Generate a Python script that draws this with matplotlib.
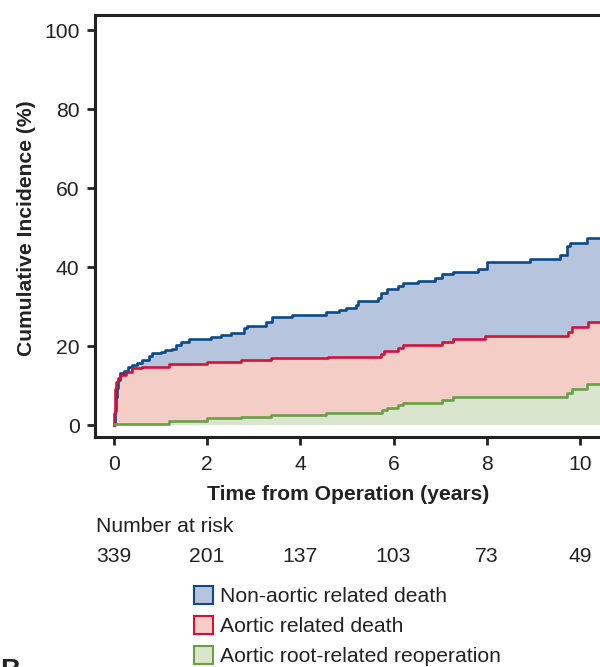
import matplotlib as mpl
mpl.use('Agg')

import matplotlib.pyplot as plt
import matplotlib.transforms as mtransforms
from matplotlib.patches import Patch

plt.rcParams['font.family'] = ['Liberation Sans', 'DejaVu Sans']

# cumulative incidence (%), step functions
t_blue = [0, 0.02, 0.04, 0.06, 0.09, 0.14, 0.22, 0.3, 0.39, 0.5, 0.6, 0.75, 0.82, 1.0,
          1.1, 1.25, 1.33, 1.45, 1.61, 2.08, 2.3, 2.51, 2.8, 2.86, 3.26, 3.4, 3.83,
          4.56, 4.84, 4.99, 5.2, 5.23, 5.66, 5.74, 5.87, 6.1, 6.2, 6.52, 6.88, 7.03,
          7.27, 7.81, 8.0, 8.92, 9.57, 9.72, 9.78, 10.15]
v_blue = [0, 3.5, 7, 9.5, 11.5, 13.2, 13.8, 14.6, 15.2, 15.8, 16.5, 17.5, 18.3, 18.6,
          19.0, 19.3, 20.3, 21.1, 21.8, 22.4, 22.8, 23.2, 24.5, 25.1, 26.2, 27.4, 27.8,
          28.7, 29.1, 29.7, 30.4, 31.5, 32.1, 33.5, 34.4, 35.2, 35.9, 36.5, 37.2, 38.2,
          38.7, 39.5, 41.2, 42.0, 43.0, 45.3, 46.0, 47.3]

t_red = [0, 0.01, 0.02, 0.03, 0.05, 0.08, 0.12, 0.25, 0.39, 0.6, 1.18, 2.0, 2.73, 3.38,
         4.6, 5.74, 5.8, 6.09, 6.2, 7.03, 7.27, 7.96, 9.74, 9.83, 10.17]
v_red = [0, 3, 6.3, 9, 11, 12.0, 12.6, 13.5, 14.4, 14.8, 15.4, 16.0, 16.5, 16.9,
         17.3, 18.1, 18.8, 19.4, 20.3, 21.1, 21.9, 22.5, 23.6, 24.9, 26.0]

t_green = [0, 1.18, 2.0, 2.73, 3.38, 4.56, 5.76, 5.87, 6.09, 6.2, 7.03, 7.27, 9.72, 9.83, 10.15]
v_green = [0.3, 1.1, 1.7, 2.1, 2.5, 3.1, 3.8, 4.2, 5.1, 5.6, 6.3, 7.0, 8.2, 9.2, 10.4]

risk_times = [0, 2, 4, 6, 8, 10]
risk_counts = [339, 201, 137, 103, 73, 49]

series = [
    ("Non-aortic related death", t_blue, v_blue, '#0b4a86', '#b7c4dd'),
    ("Aortic related death", t_red, v_red, '#d3123c', '#f4cdc6'),
    ("Aortic root-related reoperation", t_green, v_green, '#6a9f45', '#d9e5cc'),
]

X_END = 10.6
FS = 15.2

fig = plt.figure(figsize=(6, 6.67), dpi=100)
ax = fig.add_axes([0.158, 0.345, 0.842, 0.6325])

for name, t, v, lc, fc in series:
    tt = list(t) + [X_END]
    vv = list(v) + [v[-1]]
    ax.fill_between(tt, 0, vv, step='post', color=fc, lw=0)
for name, t, v, lc, fc in series:
    tt = list(t) + [X_END]
    vv = list(v) + [v[-1]]
    ax.step(tt, vv, where='post', color=lc, lw=1.9)

ax.set_xlim(-0.41, 10.43)
ax.set_ylim(-3, 103.8)
ax.set_xticks(risk_times)
ax.set_yticks([0, 20, 40, 60, 80, 100])

for s in ['left', 'bottom', 'top']:
    ax.spines[s].set_linewidth(2.2)
    ax.spines[s].set_color('#222222')
ax.spines['right'].set_visible(False)
ax.tick_params(axis='both', direction='out', length=6, width=2, color='#222222',
               labelsize=FS, labelcolor='#222222')
ax.tick_params(axis='x', pad=7)
ax.tick_params(axis='y', pad=5)

# axis titles placed where the reference has them
fig.text(348 / 600, 1 - 495 / 667, "Time from Operation (years)", fontsize=FS,
         fontweight='bold', color='#222222', ha='center', va='center')
fig.text(27 / 600, 1 - 228 / 667, "Cumulative Incidence (%)", fontsize=FS,
         fontweight='bold', color='#222222', ha='center', va='center', rotation=90)

# number at risk table
trans = mtransforms.blended_transform_factory(ax.transData, fig.transFigure)
fig.text(96 / 600, 1 - 526 / 667, "Number at risk", fontsize=FS, color='#222222',
         ha='left', va='center')
for t, n in zip(risk_times, risk_counts):
    ax.text(t, 1 - 557 / 667, str(n), transform=trans, fontsize=FS, color='#222222',
            ha='center', va='center', clip_on=False)

handles = [Patch(facecolor=fc, edgecolor=lc, lw=1.5, label=name) for name, t, v, lc, fc in series]
fig.legend(handles=handles, loc='upper left', bbox_to_anchor=(0.324, 1 - 586 / 667),
           frameon=False, fontsize=FS, handlelength=0.9, handleheight=0.9,
           handletextpad=0.3, labelspacing=0.48, borderpad=0, borderaxespad=0,
           labelcolor='#222222')

fig.text(0.0, 1 - 658 / 667, "B", fontsize=20, fontweight='bold', color='#222222',
         ha='left', va='top')

plt.savefig("out.png", format="png", dpi=100)
